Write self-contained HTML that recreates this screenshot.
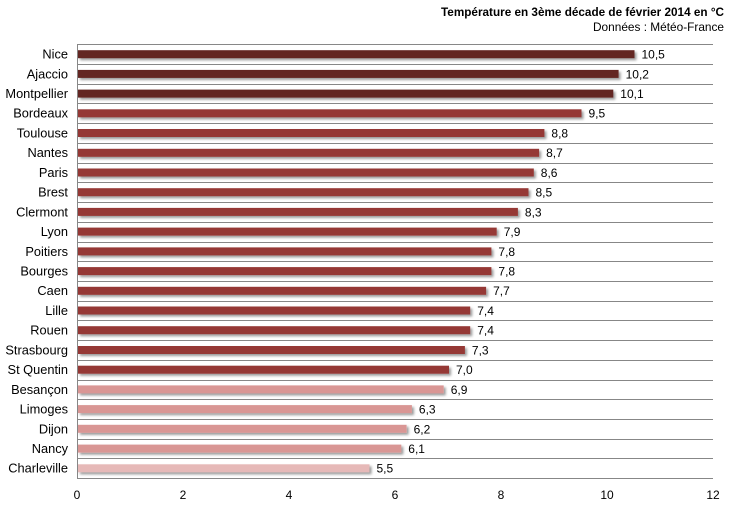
<!DOCTYPE html>
<html><head><meta charset="utf-8"><style>
html,body{margin:0;padding:0;background:#fff;}
svg{display:block;}
text{font-family:"Liberation Sans",sans-serif;fill:#000;}
</style></head><body>
<svg width="729" height="505" viewBox="0 0 729 505" xmlns="http://www.w3.org/2000/svg">
<defs>
<filter id="sh" x="-5%" y="-50%" width="110%" height="250%">
<feDropShadow dx="2" dy="2" stdDeviation="1.3" flood-color="#000" flood-opacity="0.4"/>
</filter>
</defs>
<rect width="729" height="505" fill="#fff"/>
<text x="724" y="16" text-anchor="end" font-size="11.5" font-weight="bold" textLength="283" lengthAdjust="spacingAndGlyphs">Température en 3ème décade de février 2014 en °C</text>
<text x="724" y="31" text-anchor="end" font-size="12" textLength="131" lengthAdjust="spacingAndGlyphs">Données : Météo-France</text>
<g stroke="#878787" stroke-width="1">
<line x1="77" x2="713" y1="44.5" y2="44.5"/>
<line x1="77" x2="713" y1="64.5" y2="64.5"/>
<line x1="77" x2="713" y1="84.5" y2="84.5"/>
<line x1="77" x2="713" y1="103.5" y2="103.5"/>
<line x1="77" x2="713" y1="123.5" y2="123.5"/>
<line x1="77" x2="713" y1="143.5" y2="143.5"/>
<line x1="77" x2="713" y1="163.5" y2="163.5"/>
<line x1="77" x2="713" y1="182.5" y2="182.5"/>
<line x1="77" x2="713" y1="202.5" y2="202.5"/>
<line x1="77" x2="713" y1="222.5" y2="222.5"/>
<line x1="77" x2="713" y1="242.5" y2="242.5"/>
<line x1="77" x2="713" y1="261.5" y2="261.5"/>
<line x1="77" x2="713" y1="281.5" y2="281.5"/>
<line x1="77" x2="713" y1="301.5" y2="301.5"/>
<line x1="77" x2="713" y1="320.5" y2="320.5"/>
<line x1="77" x2="713" y1="340.5" y2="340.5"/>
<line x1="77" x2="713" y1="360.5" y2="360.5"/>
<line x1="77" x2="713" y1="380.5" y2="380.5"/>
<line x1="77" x2="713" y1="399.5" y2="399.5"/>
<line x1="77" x2="713" y1="419.5" y2="419.5"/>
<line x1="77" x2="713" y1="439.5" y2="439.5"/>
<line x1="77" x2="713" y1="458.5" y2="458.5"/>
<line x1="77" x2="713" y1="478.5" y2="478.5"/>
<line x1="77.5" x2="77.5" y1="44" y2="479"/>
</g>
<g filter="url(#sh)">
<rect x="78" y="50.2" width="556.5" height="8" fill="#632523"/>
<rect x="78" y="69.9" width="540.6" height="8" fill="#632523"/>
<rect x="78" y="89.6" width="535.3" height="8" fill="#632523"/>
<rect x="78" y="109.3" width="503.5" height="8" fill="#953735"/>
<rect x="78" y="129.0" width="466.4" height="8" fill="#953735"/>
<rect x="78" y="148.8" width="461.1" height="8" fill="#953735"/>
<rect x="78" y="168.5" width="455.8" height="8" fill="#953735"/>
<rect x="78" y="188.2" width="450.5" height="8" fill="#953735"/>
<rect x="78" y="207.9" width="439.9" height="8" fill="#953735"/>
<rect x="78" y="227.6" width="418.7" height="8" fill="#953735"/>
<rect x="78" y="247.4" width="413.4" height="8" fill="#953735"/>
<rect x="78" y="267.1" width="413.4" height="8" fill="#953735"/>
<rect x="78" y="286.8" width="408.1" height="8" fill="#953735"/>
<rect x="78" y="306.5" width="392.2" height="8" fill="#953735"/>
<rect x="78" y="326.2" width="392.2" height="8" fill="#953735"/>
<rect x="78" y="346.0" width="386.9" height="8" fill="#953735"/>
<rect x="78" y="365.7" width="371.0" height="8" fill="#953735"/>
<rect x="78" y="385.4" width="365.7" height="8" fill="#D99694"/>
<rect x="78" y="405.1" width="333.9" height="8" fill="#D99694"/>
<rect x="78" y="424.8" width="328.6" height="8" fill="#D99694"/>
<rect x="78" y="444.6" width="323.3" height="8" fill="#D99694"/>
<rect x="78" y="464.3" width="291.5" height="8" fill="#E6B9B8"/>
</g>
<g font-size="12.8" text-anchor="end">
<text x="68" y="58.6">Nice</text>
<text x="68" y="78.3">Ajaccio</text>
<text x="68" y="98.0">Montpellier</text>
<text x="68" y="117.7">Bordeaux</text>
<text x="68" y="137.5">Toulouse</text>
<text x="68" y="157.2">Nantes</text>
<text x="68" y="176.9">Paris</text>
<text x="68" y="196.6">Brest</text>
<text x="68" y="216.3">Clermont</text>
<text x="68" y="236.1">Lyon</text>
<text x="68" y="255.8">Poitiers</text>
<text x="68" y="275.5">Bourges</text>
<text x="68" y="295.2">Caen</text>
<text x="68" y="314.9">Lille</text>
<text x="68" y="334.7">Rouen</text>
<text x="68" y="354.4">Strasbourg</text>
<text x="68" y="374.1">St Quentin</text>
<text x="68" y="393.8">Besançon</text>
<text x="68" y="413.5">Limoges</text>
<text x="68" y="433.3">Dijon</text>
<text x="68" y="453.0">Nancy</text>
<text x="68" y="472.7">Charleville</text>
</g>
<g font-size="12">
<text x="641.5" y="58.6">10,5</text>
<text x="625.6" y="78.3">10,2</text>
<text x="620.3" y="98.0">10,1</text>
<text x="588.5" y="117.7">9,5</text>
<text x="551.4" y="137.5">8,8</text>
<text x="546.1" y="157.2">8,7</text>
<text x="540.8" y="176.9">8,6</text>
<text x="535.5" y="196.6">8,5</text>
<text x="524.9" y="216.3">8,3</text>
<text x="503.7" y="236.1">7,9</text>
<text x="498.4" y="255.8">7,8</text>
<text x="498.4" y="275.5">7,8</text>
<text x="493.1" y="295.2">7,7</text>
<text x="477.2" y="314.9">7,4</text>
<text x="477.2" y="334.7">7,4</text>
<text x="471.9" y="354.4">7,3</text>
<text x="456.0" y="374.1">7,0</text>
<text x="450.7" y="393.8">6,9</text>
<text x="418.9" y="413.5">6,3</text>
<text x="413.6" y="433.3">6,2</text>
<text x="408.3" y="453.0">6,1</text>
<text x="376.5" y="472.7">5,5</text>
</g>
<g font-size="12" text-anchor="middle">
<text x="77" y="499">0</text>
<text x="183" y="499">2</text>
<text x="289" y="499">4</text>
<text x="395" y="499">6</text>
<text x="501" y="499">8</text>
<text x="607" y="499">10</text>
<text x="713" y="499">12</text>
</g>
</svg>
</body></html>
